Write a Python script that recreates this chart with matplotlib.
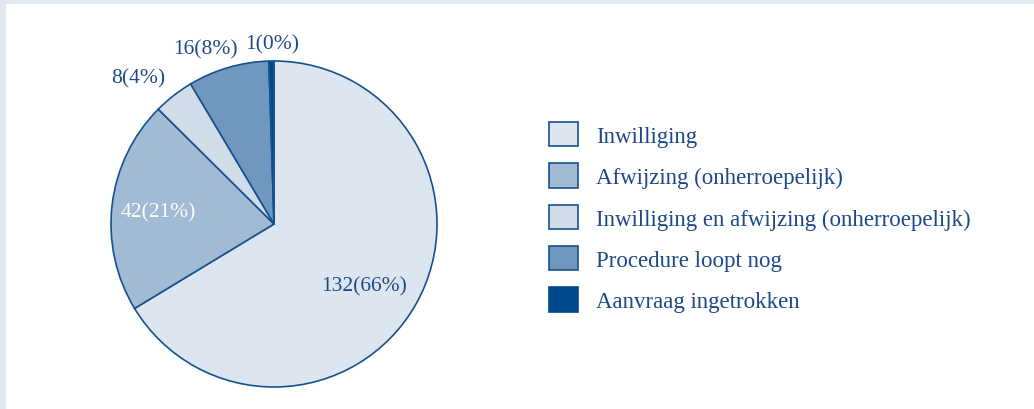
import matplotlib.pyplot as plt
from matplotlib.patches import Rectangle, Patch
import numpy as np

categories = ["Inwilliging",
              "Afwijzing (onherroepelijk)",
              "Inwilliging en afwijzing (onherroepelijk)",
              "Procedure loopt nog",
              "Aanvraag ingetrokken"]
counts = [132, 42, 8, 16, 1]
pct_labels = ["132(66%)", "42(21%)", "8(4%)", "16(8%)", "1(0%)"]

colors = ["#dde6f0", "#a2bbd5", "#d0dce8", "#7098bf", "#004a8c"]
edge = "#15528f"
txt = "#1c4a86"
# (angle in degrees, radius) for each label, in pie coordinates
label_pos = [(-34.6, 0.67), (174.1, 0.716), (133, 1.224), (111.5, 1.154), (90.6, 1.104)]
label_col = [txt, "white", txt, txt, txt]

plt.rcParams["font.family"] = ["Liberation Serif", "DejaVu Serif"]

fig = plt.figure(figsize=(10.34, 4.10), dpi=100)
fig.patch.set_facecolor("white")
# light frame at top and left
fig.add_artist(Rectangle((0, 1 - 5 / 410), 1, 5 / 410, transform=fig.transFigure,
                         color="#e3e7f0", lw=0))
fig.add_artist(Rectangle((0, 0), 6 / 1034, 1, transform=fig.transFigure,
                         color="#e3e7f0", lw=0))

cx, cy, r = 274, 185, 163
ax = fig.add_axes([(cx - r) / 1034, (cy - r) / 410, 2 * r / 1034, 2 * r / 410])
wedges, _ = ax.pie(counts, colors=colors, startangle=90, counterclock=False,
                   wedgeprops=dict(edgecolor=edge, linewidth=1.2))
ax.set_xlim(-1, 1)
ax.set_ylim(-1, 1)
ax.set_aspect("equal")
ax.axis("off")

for lab, (ang, rad), c in zip(pct_labels, label_pos, label_col):
    a = np.deg2rad(ang)
    ax.text(rad * np.cos(a), rad * np.sin(a), lab, color=c, fontsize=15.5,
            ha="center", va="center", clip_on=False)

handles = [Patch(facecolor=col, edgecolor=edge if i < 4 else col, linewidth=1.2)
           for i, col in enumerate(colors)]
leg = fig.legend(handles, categories, loc="upper left",
                 bbox_to_anchor=(540 / 1034, 1 - 114 / 410), frameon=False,
                 fontsize=16.5, handlelength=1.25, handleheight=1.25,
                 labelspacing=0.72, handletextpad=0.8, borderaxespad=0)
for t in leg.get_texts():
    t.set_color(txt)

fig.savefig("out.png", dpi=100)
